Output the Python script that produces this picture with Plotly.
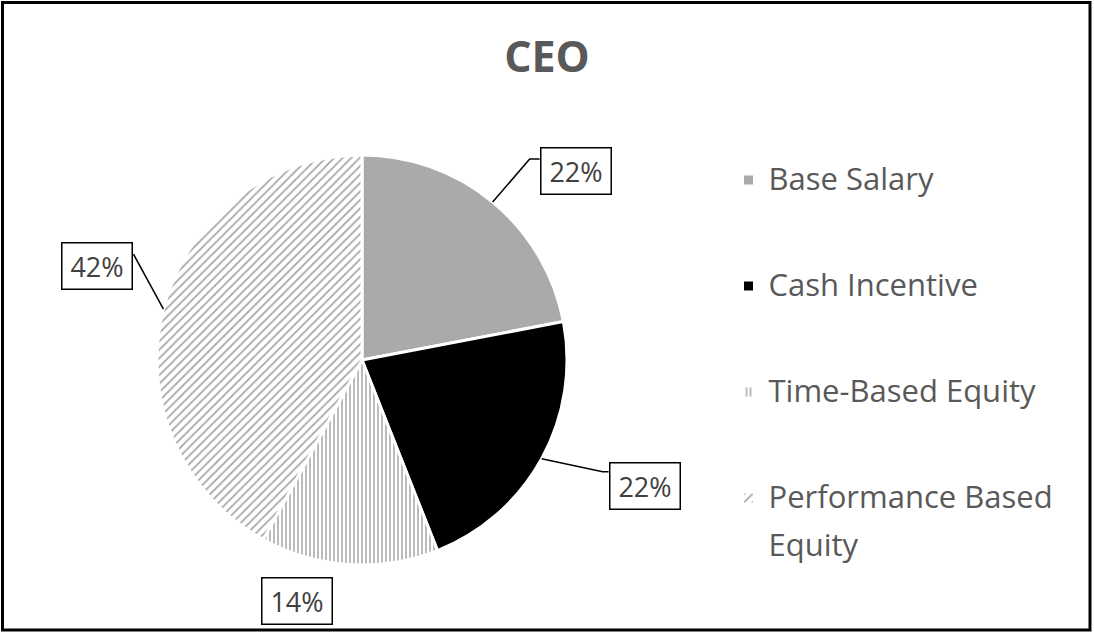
import math
import plotly.graph_objects as go

# ---------------- data ----------------
categories = ["Base Salary", "Cash Incentive", "Time-Based Equity", "Performance Based Equity"]
legend_lines = [["Base Salary"], ["Cash Incentive"], ["Time-Based Equity"], ["Performance Based", "Equity"]]
values = [22, 22, 14, 42]
pct_labels = ["22%", "22%", "14%", "42%"]

# ---------------- styles / layout ----------------
W, H = 1094, 634
CX, CY, R = 362, 360, 205          # pie centre / radius in pixels
slice_colors = ["#ABA9A9", "#000000", "#FFFFFF", "#FFFFFF"]
pattern_shapes = ["", "", "|", "/"]
pattern_sizes = [4, 4, 4, 6]
pattern_solidity = [0.3, 0.3, 0.38, 0.3]
FONT = "Open Sans"

# label box offsets (pixels, from the slice's outer mid point)
box_offsets = [(83, -31), (103, 27), (-52, 36), (-66, -43)]
# leader-line paths (pixel offsets from the slice's outer mid point); None = no line
leader_paths = [[(37, -43), (47, -43)], [(61, 13), (67, 13)], None, [(-30, -55)]]

LEG_FS = (106 - 3) / 3 / 1.3
LEG_VIS = 31


def px2paper(x, y):
    return x / W, 1 - y / H


# legend labels: visible text in a larger span, padded to 3 lines per entry
legend_labels = []
for lines in legend_lines:
    parts = [f'<span style="font-size:{LEG_VIS}px">{lines[0]}</span>']
    if len(lines) > 1:
        parts.append(f'<span style="font-size:{LEG_VIS}px;baseline-shift:-13px">{lines[1]}</span>')
    while len(parts) < 3:
        parts.append("\u00a0")
    legend_labels.append("<br>".join(parts))

fig = go.Figure()
fig.add_trace(go.Pie(
    labels=legend_labels,
    values=values,
    sort=False,
    direction="clockwise",
    rotation=0,
    textinfo="none",
    hoverinfo="none",
    marker=dict(
        colors=slice_colors,
        line=dict(color="white", width=3),
        pattern=dict(shape=pattern_shapes, fgcolor="#A6A6A6", bgcolor="white",
                     size=pattern_sizes, solidity=pattern_solidity, fillmode="replace"),
    ),
    domain=dict(x=[(CX - R) / W, (CX + R) / W], y=[1 - (CY + R) / H, 1 - (CY - R) / H]),
))

# label boxes and leader lines computed from slice angles
total = sum(values)
cum = 0
annotations = []
shapes = []
for i, v in enumerate(values):
    mid = (cum + v / 2) / total * 2 * math.pi
    cum += v
    ex = CX + R * math.sin(mid)
    ey = CY - R * math.cos(mid)
    dx, dy = box_offsets[i]
    ax, ay = px2paper(ex, ey)
    annotations.append(dict(
        x=ax, y=ay, xref="paper", yref="paper",
        xshift=dx, yshift=-dy, showarrow=False,
        text=pct_labels[i], font=dict(family=FONT, size=27, color="#404040"),
        bordercolor="#000000", borderwidth=1.5, borderpad=0,
        bgcolor="white", width=69, height=45, align="center",
        xanchor="center", yanchor="middle",
    ))
    if leader_paths[i]:
        pts = [(ex, ey)] + [(ex + ox, ey + oy) for ox, oy in leader_paths[i]]
        path = "M " + " L ".join(f"{px2paper(px, py)[0]},{px2paper(px, py)[1]}" for px, py in pts)
        shapes.append(dict(type="path", xref="paper", yref="paper", path=path,
                           line=dict(color="black", width=1.5)))

# outer chart border
shapes.append(dict(type="rect", xref="paper", yref="paper",
                   x0=2.5 / W, x1=1090 / W, y0=1 - 630 / H, y1=1 - 2.5 / H,
                   line=dict(color="black", width=3), fillcolor="rgba(0,0,0,0)"))

fig.update_layout(
    width=W, height=H,
    margin=dict(l=0, r=0, t=0, b=0),
    paper_bgcolor="white", plot_bgcolor="white",
    title=dict(text="<b>CEO</b>", x=0.5, xanchor="center", y=1 - 57 / H, yanchor="middle",
               font=dict(family=FONT, size=43, color="#595959")),
    legend=dict(x=(748.5 - 20) / W, xanchor="left", y=1 - 156.3 / H, yanchor="top",
                font=dict(family=FONT, size=LEG_FS, color="#595959"),
                valign="top", bgcolor="rgba(0,0,0,0)", borderwidth=0),
    annotations=annotations,
    shapes=shapes,
    showlegend=True,
    hovermode=False,
)

fig.write_html("out.html")
